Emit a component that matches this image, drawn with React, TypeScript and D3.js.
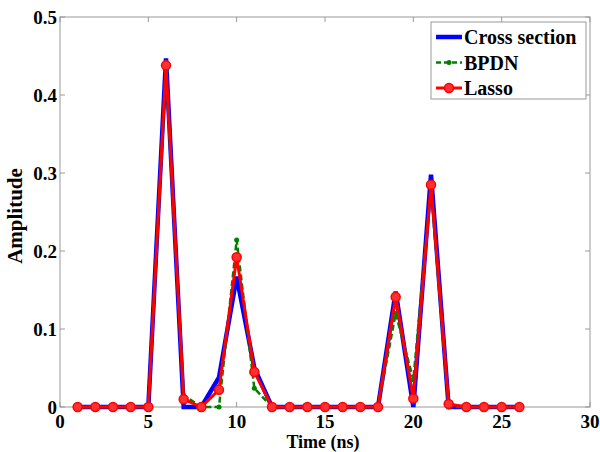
import React, { useEffect, useRef } from 'react';
import * as d3 from 'd3';

// time samples (ns)
const times = [1, 2, 3, 4, 5, 6, 7, 8, 9, 10, 11, 12, 13, 14, 15, 16, 17, 18, 19, 20, 21, 22, 23, 24, 25, 26];

const crossSection = [0, 0, 0, 0, 0, 0.447, 0, 0, 0.038, 0.167, 0.05, 0, 0, 0, 0, 0, 0, 0, 0.148, 0, 0.298, 0, 0, 0, 0, 0];
const bpdn = [0, 0, 0, 0, 0, 0.43, 0.015, 0, 0, 0.214, 0.024, 0, 0, 0, 0, 0, 0, 0, 0.12, 0.035, 0.28, 0, 0, 0, 0, 0];
const lasso = [0, 0, 0, 0, 0, 0.438, 0.01, 0, 0.022, 0.192, 0.045, 0, 0, 0, 0, 0, 0, 0, 0.141, 0.011, 0.285, 0.004, 0, 0, 0, 0];

const xTicks = [0, 5, 10, 15, 20, 25, 30];
const yTicks = [0, 0.1, 0.2, 0.3, 0.4, 0.5];

const legendNames = ['Cross section', 'BPDN', 'Lasso'];

const font = "'Liberation Serif', 'Times New Roman', Times, 'DejaVu Serif', serif";

export default function App() {
  const ref = useRef<SVGSVGElement>(null);

  useEffect(() => {
    const svg = d3.select(ref.current);
    svg.selectAll('*').remove();

    const margin = { top: 17, right: 10, bottom: 45, left: 60 };
    const width = 600 - margin.left - margin.right;
    const height = 452 - margin.top - margin.bottom;

    const x = d3.scaleLinear().domain([0, 30]).range([0, width]);
    const y = d3.scaleLinear().domain([0, 0.5]).range([height, 0]);

    const g = svg.append('g')
      .attr('transform', 'translate(' + margin.left + ',' + margin.top + ')')
      .style('font-family', font)
      .style('font-weight', '700');

    // box
    g.append('rect')
      .attr('width', width)
      .attr('height', height)
      .attr('fill', 'white')
      .attr('stroke', '#999')
      .attr('stroke-width', 1);

    // ticks inside on all four sides
    const tickLen = 5;
    xTicks.forEach(t => {
      g.append('line').attr('x1', x(t)).attr('x2', x(t)).attr('y1', height).attr('y2', height - tickLen).attr('stroke', '#999');
      g.append('line').attr('x1', x(t)).attr('x2', x(t)).attr('y1', 0).attr('y2', tickLen).attr('stroke', '#999');
      g.append('text')
        .attr('x', x(t)).attr('y', height + 21)
        .attr('text-anchor', 'middle')
        .style('font-size', '19px')
        .text(t);
    });
    yTicks.forEach(t => {
      g.append('line').attr('x1', 0).attr('x2', tickLen).attr('y1', y(t)).attr('y2', y(t)).attr('stroke', '#999');
      g.append('line').attr('x1', width).attr('x2', width - tickLen).attr('y1', y(t)).attr('y2', y(t)).attr('stroke', '#999');
      g.append('text')
        .attr('x', -3).attr('y', y(t) + 7)
        .attr('text-anchor', 'end')
        .style('font-size', '19px')
        .text(t === 0 ? '0' : d3.format('.1f')(t));
    });

    // axis labels
    g.append('text')
      .attr('x', width / 2 - 2).attr('y', height + 41)
      .attr('text-anchor', 'middle')
      .style('font-size', '18px')
      .text('Time (ns)');
    g.append('text')
      .attr('transform', 'translate(-38,' + (height / 2 + 4) + ') rotate(-90)')
      .attr('text-anchor', 'middle')
      .style('font-size', '21px')
      .text('Amplitude');

    const line = d3.line<number>()
      .x((d, i) => x(times[i]))
      .y(d => y(d));

    // Cross section
    g.append('path').datum(crossSection)
      .attr('d', line).attr('fill', 'none')
      .attr('stroke', '#0000ff').attr('stroke-width', 4.5).attr('stroke-linejoin', 'miter');

    // BPDN
    g.append('path').datum(bpdn)
      .attr('d', line).attr('fill', 'none')
      .attr('stroke', '#007f00').attr('stroke-width', 2.5).attr('stroke-dasharray', '6,3');
    g.selectAll('.bp').data(bpdn).enter().append('circle')
      .attr('cx', (d, i) => x(times[i])).attr('cy', d => y(d))
      .attr('r', 2.5).attr('fill', '#007f00');

    // Lasso
    g.append('path').datum(lasso)
      .attr('d', line).attr('fill', 'none')
      .attr('stroke', '#ff0000').attr('stroke-width', 3);
    g.selectAll('.ls').data(lasso).enter().append('circle')
      .attr('cx', (d, i) => x(times[i])).attr('cy', d => y(d))
      .attr('r', 4.5).attr('fill', '#ff3030').attr('stroke', '#ff0000').attr('stroke-width', 1.5);

    // legend
    const lg = g.append('g').attr('transform', 'translate(' + (431 - margin.left) + ',' + (22 - margin.top) + ')');
    lg.append('rect').attr('width', 155).attr('height', 77).attr('fill', 'white').attr('stroke', '#999');
    legendNames.forEach((name, i) => {
      const ly = 15 + i * 25.5;
      const item = lg.append('g').attr('transform', 'translate(0,' + ly + ')');
      if (i === 0) {
        item.append('line').attr('x1', 5).attr('x2', 31).attr('y1', 0).attr('y2', 0)
          .attr('stroke', '#0000ff').attr('stroke-width', 4.5);
      } else if (i === 1) {
        item.append('line').attr('x1', 5).attr('x2', 31).attr('y1', 0).attr('y2', 0)
          .attr('stroke', '#007f00').attr('stroke-width', 2.5).attr('stroke-dasharray', '5,3');
        item.append('circle').attr('cx', 18).attr('cy', 0).attr('r', 2.5).attr('fill', '#007f00');
      } else {
        item.append('line').attr('x1', 5).attr('x2', 31).attr('y1', 0).attr('y2', 0)
          .attr('stroke', '#ff0000').attr('stroke-width', 3);
        item.append('circle').attr('cx', 18).attr('cy', 0).attr('r', 4.5)
          .attr('fill', '#ff3030').attr('stroke', '#ff0000').attr('stroke-width', 1.5);
      }
      item.append('text')
        .attr('x', 33).attr('y', 7)
        .style('font-size', '20px')
        .text(name);
    });
  }, []);

  return (
    <svg ref={ref} width={600} height={452}
      style={{ position: 'absolute', left: 0, top: 0, background: 'white' }} />
  );
}
